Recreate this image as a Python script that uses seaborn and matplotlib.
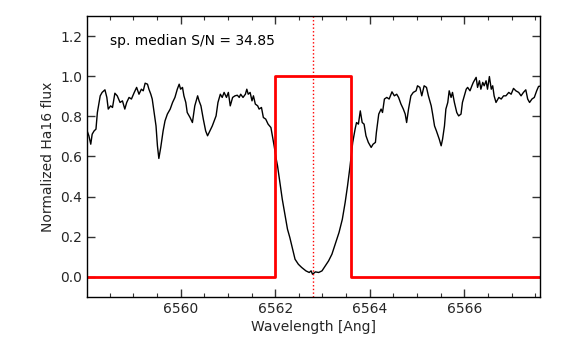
import numpy as np
import pandas as pd
import matplotlib
matplotlib.use("Agg")
import matplotlib.pyplot as plt
from matplotlib.ticker import MultipleLocator
import seaborn as sns

# Spectrum around H-alpha
wavelength = [
    6558.01, 6558.06, 6558.10, 6558.13, 6558.17, 6558.21, 6558.24, 6558.30, 6558.34, 6558.40,
    6558.44, 6558.47, 6558.52, 6558.56, 6558.61, 6558.66, 6558.72, 6558.77, 6558.82, 6558.86,
    6558.91, 6558.96, 6559.02, 6559.07, 6559.12, 6559.17, 6559.21, 6559.25, 6559.30, 6559.33,
    6559.37, 6559.40, 6559.44, 6559.48, 6559.51, 6559.54, 6559.58, 6559.63, 6559.67, 6559.72,
    6559.78, 6559.83, 6559.88, 6559.93, 6559.97, 6560.00, 6560.04, 6560.07, 6560.11, 6560.14,
    6560.20, 6560.25, 6560.30, 6560.36, 6560.39, 6560.43, 6560.48, 6560.53, 6560.57, 6560.62,
    6560.67, 6560.75, 6560.79, 6560.84, 6560.88, 6560.92, 6560.97, 6561.01, 6561.05, 6561.10,
    6561.15, 6561.20, 6561.24, 6561.27, 6561.32, 6561.37, 6561.40, 6561.43, 6561.47, 6561.51,
    6561.54, 6561.58, 6561.63, 6561.66, 6561.71, 6561.75, 6561.80, 6561.85, 6561.91, 6561.94,
    6561.98, 6562.02, 6562.05, 6562.10, 6562.15, 6562.21, 6562.26, 6562.31, 6562.37, 6562.42,
    6562.49, 6562.56, 6562.65, 6562.72, 6562.76, 6562.79, 6562.85, 6562.92, 6562.99, 6563.06,
    6563.13, 6563.20, 6563.28, 6563.35, 6563.42, 6563.48, 6563.53, 6563.58, 6563.64, 6563.69,
    6563.72, 6563.76, 6563.80, 6563.84, 6563.88, 6563.92, 6563.97, 6564.03, 6564.07, 6564.12,
    6564.14, 6564.19, 6564.24, 6564.27, 6564.31, 6564.36, 6564.41, 6564.47, 6564.52, 6564.57,
    6564.61, 6564.66, 6564.71, 6564.75, 6564.78, 6564.82, 6564.87, 6564.92, 6564.98, 6565.01,
    6565.06, 6565.10, 6565.15, 6565.20, 6565.24, 6565.30, 6565.33, 6565.37, 6565.41, 6565.47,
    6565.51, 6565.54, 6565.58, 6565.61, 6565.65, 6565.68, 6565.72, 6565.75, 6565.79, 6565.84,
    6565.88, 6565.93, 6565.96, 6566.00, 6566.04, 6566.07, 6566.12, 6566.16, 6566.19, 6566.25,
    6566.28, 6566.32, 6566.35, 6566.39, 6566.42, 6566.46, 6566.49, 6566.53, 6566.57, 6566.60,
    6566.63, 6566.67, 6566.73, 6566.78, 6566.83, 6566.88, 6566.94, 6566.99, 6567.04, 6567.09,
    6567.15, 6567.20, 6567.25, 6567.30, 6567.34, 6567.38, 6567.43, 6567.48, 6567.53, 6567.57,
    6567.60,
]
flux = [
    0.736, 0.703, 0.661, 0.711, 0.727, 0.736, 0.819, 0.902, 0.919, 0.932,
    0.894, 0.836, 0.852, 0.844, 0.915, 0.902, 0.869, 0.877, 0.836, 0.869,
    0.894, 0.886, 0.919, 0.944, 0.910, 0.935, 0.927, 0.965, 0.960, 0.935,
    0.910, 0.886, 0.819, 0.752, 0.653, 0.590, 0.645, 0.727, 0.777, 0.811,
    0.836, 0.869, 0.894, 0.935, 0.960, 0.935, 0.944, 0.902, 0.869, 0.819,
    0.794, 0.769, 0.852, 0.902, 0.877, 0.852, 0.786, 0.727, 0.703, 0.727,
    0.752, 0.802, 0.869, 0.910, 0.894, 0.919, 0.894, 0.919, 0.852, 0.894,
    0.902, 0.905, 0.894, 0.910, 0.894, 0.910, 0.935, 0.910, 0.919, 0.877,
    0.902, 0.861, 0.852, 0.836, 0.844, 0.794, 0.786, 0.761, 0.744, 0.703,
    0.650, 0.590, 0.553, 0.470, 0.387, 0.304, 0.238, 0.196, 0.138, 0.088,
    0.063, 0.047, 0.030, 0.022, 0.030, 0.013, 0.025, 0.022, 0.030, 0.055,
    0.080, 0.113, 0.171, 0.221, 0.287, 0.371, 0.453, 0.545, 0.670, 0.736,
    0.769, 0.761, 0.827, 0.769, 0.761, 0.703, 0.670, 0.645, 0.661, 0.670,
    0.719, 0.811, 0.836, 0.819, 0.886, 0.894, 0.886, 0.922, 0.902, 0.910,
    0.894, 0.861, 0.836, 0.811, 0.769, 0.836, 0.902, 0.919, 0.927, 0.952,
    0.944, 0.902, 0.952, 0.944, 0.902, 0.852, 0.811, 0.752, 0.727, 0.686,
    0.653, 0.686, 0.752, 0.836, 0.869, 0.927, 0.894, 0.919, 0.869, 0.819,
    0.802, 0.811, 0.869, 0.902, 0.935, 0.944, 0.927, 0.952, 0.969, 0.994,
    0.944, 0.977, 0.935, 0.969, 0.952, 0.977, 0.935, 0.998, 0.935, 0.952,
    0.902, 0.869, 0.894, 0.886, 0.902, 0.902, 0.919, 0.910, 0.939, 0.927,
    0.919, 0.902, 0.919, 0.932, 0.886, 0.869, 0.886, 0.894, 0.927, 0.949,
    0.950,
]

# Integration window (box) and line centre
window_x = [6558.0, 6562.0, 6562.0, 6563.6, 6563.6, 6567.6]
window_y = [0.0, 0.0, 1.0, 1.0, 0.0, 0.0]
line_center = 6562.8
snr_label = "sp. median S/N = 34.85"

sns.set_style("ticks")
plt.rcParams['font.family'] = ['DejaVu Sans']

fig = plt.figure(figsize=(5.81, 3.39), dpi=100)
ax = fig.add_axes([0.1497, 0.124, 0.7797, 0.829])

spec = pd.DataFrame({'wl': wavelength, 'flux': flux})
sns.lineplot(data=spec, x='wl', y='flux', color='black', linewidth=1.0,
             estimator=None, sort=False, ax=ax)

box = pd.DataFrame({'x': window_x, 'y': window_y})
sns.lineplot(data=box, x='x', y='y', color='red', linewidth=2.0,
             estimator=None, sort=False, ax=ax)

ax.axvline(line_center, color='red', linestyle=':', linewidth=1.0)

ax.text(0.05, 0.912, snr_label, transform=ax.transAxes, fontsize=10,
        ha='left', va='center', color='black')

ax.set_xlim(6558.02, 6567.6)
ax.set_ylim(-0.1, 1.3)
ax.xaxis.set_major_locator(MultipleLocator(2))
ax.xaxis.set_minor_locator(MultipleLocator(0.5))
ax.yaxis.set_major_locator(MultipleLocator(0.2))
ax.set_xlabel('Wavelength [Ang]', fontsize=10, labelpad=3)
ax.set_ylabel('Normalized Ha16 flux', fontsize=10, labelpad=4)

ax.tick_params(which='both', direction='in', top=True, right=True,
               labelsize=10, color='#333333')
ax.tick_params(which='major', length=6, width=1)
ax.tick_params(which='minor', length=3, width=0.8)
for s in ax.spines.values():
    s.set_visible(True)
    s.set_color('black')
    s.set_linewidth(1.0)

fig.savefig('out.png', dpi=100)
plt.close(fig)
